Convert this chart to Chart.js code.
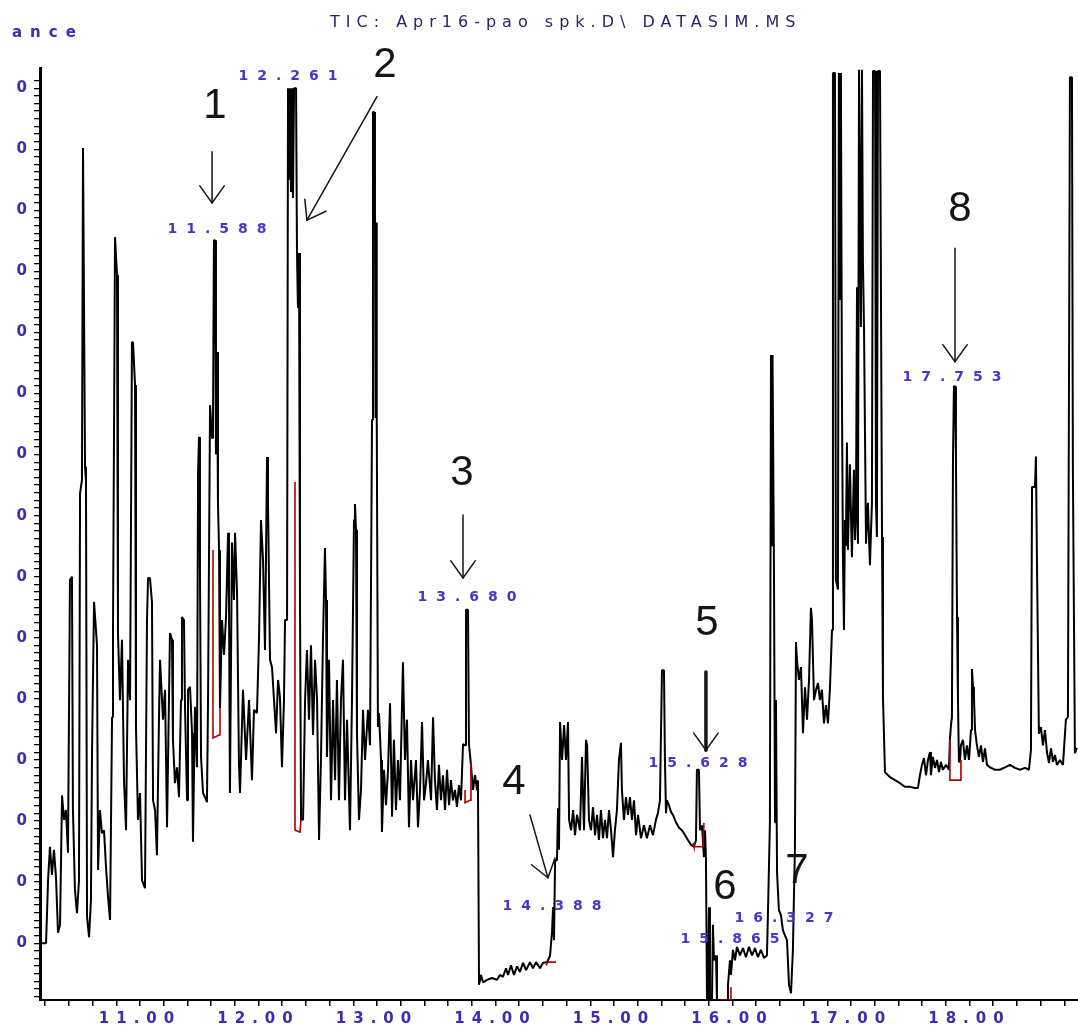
<!DOCTYPE html>
<html>
<head>
<meta charset="utf-8">
<script src="https://cdn.jsdelivr.net/npm/chart.js@4.4.1/dist/chart.umd.min.js"></script>
<style>
  html, body { margin: 0; padding: 0; background: #fff; }
</style>
</head>
<body>
<canvas id="tic" width="1078" height="1033"></canvas>
<script>
// retention time (min) and abundance (x1000 counts)
var retentionTimes = [
  10.156,10.207,10.224,10.240,10.257,10.274,10.291,10.308,10.325,10.342,
  10.359,10.375,10.392,10.409,10.426,10.434,10.451,10.468,10.485,10.494,
  10.510,10.519,10.527,10.536,10.544,10.553,10.570,10.586,10.595,10.612,
  10.620,10.637,10.646,10.662,10.679,10.696,10.713,10.730,10.747,10.764,
  10.772,10.789,10.797,10.806,10.814,10.831,10.848,10.865,10.882,10.899,
  10.916,10.932,10.941,10.958,10.966,10.983,11.000,11.017,11.042,11.059,
  11.068,11.084,11.101,11.110,11.127,11.143,11.160,11.169,11.194,11.211,
  11.228,11.253,11.270,11.278,11.295,11.312,11.329,11.346,11.354,11.371,
  11.380,11.397,11.405,11.422,11.439,11.447,11.464,11.481,11.490,11.498,
  11.506,11.515,11.532,11.549,11.565,11.574,11.591,11.608,11.616,11.624,
  11.633,11.641,11.650,11.658,11.667,11.675,11.692,11.709,11.726,11.743,
  11.751,11.759,11.776,11.793,11.802,11.819,11.835,11.844,11.869,11.895,
  11.920,11.945,11.962,11.987,12.004,12.021,12.038,12.055,12.072,12.080,
  12.097,12.114,12.131,12.148,12.165,12.181,12.198,12.215,12.224,12.241,
  12.249,12.258,12.266,12.274,12.283,12.291,12.300,12.317,12.325,12.333,
  12.342,12.350,12.359,12.376,12.393,12.409,12.426,12.443,12.460,12.477,
  12.494,12.511,12.527,12.544,12.561,12.570,12.578,12.595,12.612,12.629,
  12.646,12.662,12.679,12.696,12.713,12.730,12.747,12.772,12.789,12.806,
  12.814,12.823,12.831,12.848,12.865,12.882,12.899,12.924,12.941,12.958,
  12.966,12.975,12.983,12.988,12.992,12.996,13.000,13.008,13.017,13.034,
  13.042,13.059,13.076,13.093,13.110,13.127,13.143,13.160,13.177,13.194,
  13.219,13.236,13.253,13.270,13.287,13.304,13.329,13.346,13.363,13.380,
  13.397,13.414,13.430,13.456,13.473,13.489,13.506,13.523,13.540,13.557,
  13.574,13.591,13.608,13.624,13.641,13.658,13.675,13.692,13.709,13.726,
  13.743,13.751,13.768,13.776,13.793,13.810,13.827,13.844,13.852,13.861,
  13.878,13.895,13.928,13.970,14.013,14.038,14.063,14.089,14.106,14.131,
  14.156,14.182,14.207,14.232,14.258,14.291,14.317,14.342,14.376,14.401,
  14.435,14.460,14.477,14.486,14.494,14.503,14.519,14.528,14.536,14.545,
  14.562,14.579,14.595,14.612,14.621,14.638,14.655,14.671,14.688,14.713,
  14.730,14.747,14.764,14.773,14.789,14.806,14.823,14.840,14.857,14.873,
  14.890,14.907,14.924,14.941,14.958,14.975,14.992,15.008,15.025,15.042,
  15.059,15.067,15.084,15.101,15.118,15.135,15.152,15.169,15.186,15.203,
  15.228,15.253,15.278,15.304,15.329,15.354,15.371,15.388,15.405,15.422,
  15.430,15.439,15.447,15.464,15.481,15.498,15.523,15.549,15.574,15.599,
  15.624,15.650,15.675,15.692,15.700,15.717,15.726,15.743,15.759,15.768,
  15.776,15.785,15.793,15.802,15.810,15.827,15.835,15.844,15.861,15.869,
  15.954,15.962,15.979,15.987,16.004,16.021,16.038,16.063,16.089,16.114,
  16.139,16.165,16.190,16.215,16.240,16.266,16.291,16.300,16.316,16.325,
  16.333,16.338,16.350,16.359,16.367,16.376,16.392,16.409,16.426,16.443,
  16.460,16.477,16.494,16.510,16.519,16.527,16.536,16.544,16.561,16.578,
  16.595,16.612,16.629,16.646,16.662,16.671,16.688,16.705,16.722,16.738,
  16.755,16.772,16.789,16.806,16.823,16.840,16.848,16.865,16.873,16.890,
  16.898,16.907,16.915,16.924,16.932,16.941,16.949,16.957,16.966,16.974,
  16.991,17.008,17.025,17.034,17.042,17.051,17.059,17.068,17.084,17.093,
  17.101,17.110,17.127,17.143,17.160,17.177,17.186,17.203,17.211,17.219,
  17.228,17.245,17.262,17.270,17.287,17.329,17.371,17.414,17.456,17.498,
  17.540,17.565,17.582,17.599,17.616,17.633,17.650,17.667,17.675,17.692,
  17.709,17.726,17.743,17.759,17.776,17.802,17.827,17.835,17.844,17.852,
  17.861,17.869,17.878,17.886,17.895,17.903,17.911,17.920,17.928,17.945,
  17.962,17.979,17.996,18.013,18.021,18.030,18.038,18.047,18.063,18.080,
  18.097,18.114,18.131,18.148,18.173,18.215,18.257,18.300,18.342,18.384,
  18.426,18.468,18.502,18.519,18.528,18.553,18.561,18.570,18.578,18.586,
  18.603,18.620,18.637,18.654,18.671,18.688,18.705,18.722,18.738,18.764,
  18.789,18.814,18.831,18.848,18.865,18.873,18.890,18.907
];
var abundance = [
  100,100,203,258,212,253,208,117,130,342,
  302,318,248,695,700,318,187,149,203,837,
  858,1402,1402,880,858,143,110,171,413,659,
  659,588,220,318,280,285,225,176,138,470,
  612,1256,1256,1194,608,498,597,367,285,564,
  498,1084,1084,1014,454,302,346,203,190,629,
  698,698,659,334,318,244,466,564,466,515,
  290,608,597,433,362,388,339,498,634,629,
  485,334,515,520,444,266,487,388,872,929,
  711,405,346,339,331,493,981,927,957,1251,
  1251,900,1068,822,744,485,629,572,634,772,
  662,346,756,662,772,673,395,346,515,400,
  498,367,482,477,597,793,728,580,896,826,
  564,552,498,444,531,503,388,498,629,629,
  1500,1350,1500,1330,1500,1320,1500,1500,1227,1140,
  1230,662,302,302,498,580,466,588,441,564,
  498,269,400,597,747,662,405,564,334,498,
  367,531,334,498,564,334,466,285,498,793,
  819,777,444,302,351,482,400,482,424,957,
  1461,1461,1287,960,1280,960,953,454,477,400,
  282,384,326,384,493,307,433,318,400,334,
  560,400,466,290,400,334,400,290,351,462,
  334,362,400,334,470,367,318,392,334,375,
  318,384,326,367,334,351,323,359,334,426,
  424,646,646,426,392,351,375,351,367,32,
  48,36,40,43,40,48,45,59,48,64,
  48,62,53,68,56,69,59,69,59,68,
  69,79,118,159,105,236,236,321,253,462,
  400,457,400,462,302,285,318,277,310,285,
  405,285,433,424,302,285,323,277,310,269,
  318,272,302,272,318,285,241,285,318,400,
  428,351,302,339,310,339,302,334,277,310,
  272,293,272,293,277,302,313,334,547,547,
  400,313,334,326,315,310,298,289,285,277,
  269,261,258,269,384,384,285,293,241,285,
  241,7,7,159,7,7,130,72,80,7,
  7,32,72,48,89,72,94,80,92,77,
  94,80,92,77,89,76,80,154,298,1063,
  750,1063,719,298,498,216,154,146,121,113,
  105,32,18,89,179,256,593,564,531,552,
  444,519,466,531,649,629,498,515,526,498,
  515,460,490,460,519,613,1525,1525,695,679,
  1525,1153,1525,990,736,613,793,751,920,744,
  884,732,875,760,793,1174,754,1530,1109,1530,
  1215,1109,754,821,719,821,1528,1528,821,765,
  1528,1528,765,503,380,372,367,362,356,356,
  354,354,375,392,403,375,400,413,375,405,
  387,400,380,397,384,392,384,433,457,470,
  894,1012,1012,894,634,498,397,397,424,433,
  400,424,400,449,549,520,503,449,424,405,
  424,397,419,392,388,384,384,388,392,387,
  384,387,384,416,847,847,897,719,719,443,
  454,424,449,413,395,419,397,408,392,400,
  392,466,470,1518,1518,871,411,420
];

// red integration baselines (null breaks the line between peaks)
var baselineTimes = [11.616,11.616,11.667,11.675, 11.680, 12.308,12.308,12.350,12.359, 12.365,
  13.743,13.743,13.785,13.793, 13.800, 14.426,14.443,14.511, 14.520,
  15.667,15.675,15.751,15.759, 15.765, 15.895,15.987,15.987, 15.990,
  17.835,17.835,17.928,17.928];
var baselineValues = [744,436,441,485, null, 855,285,282,302, null,
  351,330,334,395, null, 64,69,69, null,
  264,258,258,297, null, 7,7,28, null,
  433,367,367,400];

// peak retention-time labels
var peakLabels = ["11.588", "12.261", "13.680", "14.388", "15.628", "15.865", "16.327", "17.753"];
var peakLabelTimes = [11.650, 12.249, 13.759, 14.477, 15.709, 15.979, 16.435, 17.852];
var peakLabelLevels = [1268, 1520, 667, 161, 395, 107, 141, 1026];

// hand-written compound numbers
var markerNumbers = ["1", "2", "3", "4", "5", "6", "7", "8"];
var markerTimes = [11.633, 13.068, 13.717, 14.156, 15.785, 15.937, 16.544, 17.920];
var markerLevels = [1470, 1538, 870, 364, 623, 192, 217, 1301];

// arrows: [time, abundance] of tail and tip
var arrowTails = [[11.608, 1396], [13.000, 1486], [13.726, 801], [14.291, 310], [15.776, 544], [17.878, 1238]];
var arrowTips = [[11.608, 1312], [12.409, 1284], [13.726, 698], [14.443, 207], [15.776, 416], [17.878, 1052]];
var arrowWidths = [1.5, 1.5, 1.5, 1.5, 3.5, 1.5];

// axis ticks
var xTickValues = [10.2,10.4,10.6,10.8,11,11.2,11.4,11.6,11.8,12,12.2,12.4,12.6,12.8,13,13.2,13.4,13.6,13.8,
  14,14.2,14.4,14.6,14.8,15,15.2,15.4,15.6,15.8,16,16.2,16.4,16.6,16.8,17,17.2,17.4,17.6,17.8,18,18.2,18.4,18.6,18.8];
var minuteTicks = [11, 12, 13, 14, 15, 16, 17, 18];
var minuteLabels = ["11.00", "12.00", "13.00", "14.00", "15.00", "16.00", "17.00", "18.00"];
var abundanceTicks = [100,200,300,400,500,600,700,800,900,1000,1100,1200,1300,1400,1500];

var xMin = 10.156, xMax = 18.916;
var yMin = 7, yMax = 1533;

var labelBlue = "#3a2cb4";

// 8 minor ticks per labelled step on the abundance axis
var yTickValues = [];
for (var s = 0; s < 1525; s += 12.5) {
  if (s > 0) yTickValues.push(s);
}

var textPlugin = {
  id: "ticText",
  beforeDraw: function (chart) {
    chart.ctx.letterSpacing = "7px";
  },
  afterDraw: function (chart) {
    var ctx = chart.ctx;
    var xs = chart.scales.x;
    var ys = chart.scales.y;
    ctx.save();

    ctx.letterSpacing = "6px";
    ctx.font = "16px 'DejaVu Sans'";
    ctx.fillStyle = "#2a2468";
    ctx.textAlign = "left";
    ctx.textBaseline = "alphabetic";
    ctx.fillText("TIC: Apr16-pao spk.D\\ DATASIM.MS", 330, 27);

    ctx.letterSpacing = "8px";
    ctx.font = "bold 15px 'DejaVu Sans'";
    ctx.fillStyle = labelBlue;
    ctx.fillText("ance", 12, 37);

    ctx.letterSpacing = "9px";
    ctx.font = "bold 14px 'DejaVu Sans'";
    ctx.textAlign = "center";
    ctx.textBaseline = "middle";
    ctx.fillStyle = "#4536cc";
    for (var i = 0; i < peakLabels.length; i++) {
      ctx.fillText(peakLabels[i], xs.getPixelForValue(peakLabelTimes[i]) + 4.5, ys.getPixelForValue(peakLabelLevels[i]));
    }

    ctx.letterSpacing = "0px";
    ctx.font = "42px 'Liberation Sans'";
    ctx.fillStyle = "#151515";
    for (var j = 0; j < markerNumbers.length; j++) {
      ctx.fillText(markerNumbers[j], xs.getPixelForValue(markerTimes[j]), ys.getPixelForValue(markerLevels[j]));
    }

    ctx.strokeStyle = "#151515";
    ctx.lineCap = "round";
    for (var k = 0; k < arrowTails.length; k++) {
      var x1 = xs.getPixelForValue(arrowTails[k][0]), y1 = ys.getPixelForValue(arrowTails[k][1]);
      var x2 = xs.getPixelForValue(arrowTips[k][0]), y2 = ys.getPixelForValue(arrowTips[k][1]);
      var a = Math.atan2(y2 - y1, x2 - x1);
      var len = 21, spread = 0.62;
      ctx.lineWidth = arrowWidths[k];
      ctx.beginPath();
      ctx.moveTo(x1, y1);
      ctx.lineTo(x2, y2);
      ctx.stroke();
      ctx.lineWidth = 1.5;
      ctx.beginPath();
      ctx.moveTo(x2 - len * Math.cos(a - spread), y2 - len * Math.sin(a - spread));
      ctx.lineTo(x2, y2);
      ctx.lineTo(x2 - len * Math.cos(a + spread), y2 - len * Math.sin(a + spread));
      ctx.stroke();
    }

    ctx.restore();
    ctx.letterSpacing = "0px";
  }
};

var trace = retentionTimes.map(function (t, i) {
  return { x: t, y: abundance[i] };
});
var baselines = baselineTimes.map(function (t, i) {
  return { x: t, y: baselineValues[i] };
});

var ctx = document.getElementById("tic");
var ticChart = new Chart(ctx, {
  type: "line",
  data: {
    datasets: [
      {
        label: "baseline",
        data: baselines,
        borderColor: "#b00000",
        borderWidth: 1.6,
        pointRadius: 0,
        spanGaps: false,
        tension: 0,
      },
      {
        label: "TIC",
        data: trace,
        borderColor: "#000000",
        borderWidth: 2,
        borderJoinStyle: "bevel",
        pointRadius: 0,
        tension: 0,
      },
    ],
  },
  options: {
    responsive: false,
    animation: false,
    devicePixelRatio: 1,
    layout: { padding: { top: 68, left: 0, right: 0, bottom: 0 } },
    plugins: {
      legend: { display: false },
      tooltip: { enabled: false },
      title: { display: false },
    },
    scales: {
      x: {
        type: "linear",
        min: xMin,
        max: xMax,
        afterBuildTicks: function (scale) {
          scale.ticks = xTickValues.map(function (v) { return { value: v }; });
        },
        afterFit: function (scale) { scale.height = 33; },
        ticks: {
          autoSkip: false,
          maxRotation: 0,
          padding: 4,
          color: labelBlue,
          font: { family: "'DejaVu Sans'", size: 15, weight: "bold" },
          callback: function (v) {
            var idx = minuteTicks.indexOf(Math.round(v * 10) / 10);
            return idx >= 0 ? minuteLabels[idx] : "";
          },
        },
        grid: { drawOnChartArea: false, drawTicks: true, tickLength: 6, color: "#000", lineWidth: 1.5 },
        border: { display: true, color: "#000", width: 2 },
      },
      y: {
        type: "linear",
        min: yMin,
        max: yMax,
        afterBuildTicks: function (scale) {
          scale.ticks = yTickValues.map(function (v) { return { value: v }; });
        },
        afterFit: function (scale) { scale.width = 40; },
        ticks: {
          autoSkip: false,
          padding: 0,
          color: labelBlue,
          font: { family: "'DejaVu Sans'", size: 15, weight: "bold" },
          // the original labels are cut off by the left edge; only the last digit shows
          callback: function (v) {
            return abundanceTicks.indexOf(v) >= 0 ? String(v * 1000).slice(-1) : "";
          },
        },
        grid: { drawOnChartArea: false, drawTicks: true, tickLength: 6, color: "#000", lineWidth: 1.3 },
        border: { display: true, color: "#000", width: 3 },
      },
    },
  },
  plugins: [textPlugin],
});
</script>
</body>
</html>
